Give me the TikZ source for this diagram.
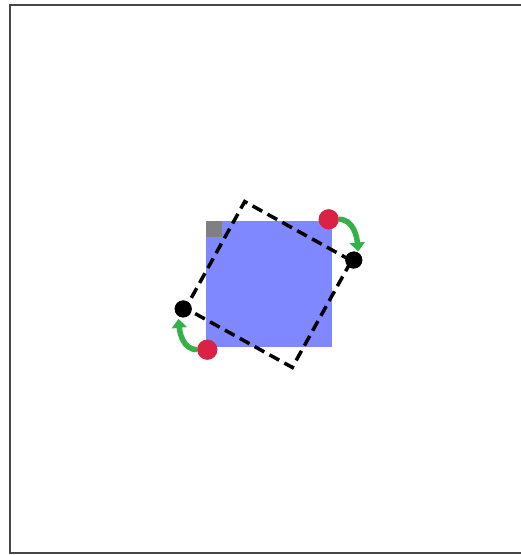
\documentclass[tikz,border=0pt]{standalone}
\usetikzlibrary{arrows.meta}
\definecolor{sqblue}{RGB}{128,136,255}
\definecolor{dotred}{RGB}{218,34,68}
\definecolor{arrgreen}{RGB}{52,178,72}
\definecolor{framegray}{RGB}{70,70,70}
\tikzset{
  reddot/.style={circle, fill=dotred, inner sep=0pt, minimum size=20pt},
  blackdot/.style={circle, fill=black, inner sep=0pt, minimum size=17pt},
  turnarrow/.style={draw=arrgreen, line width=5.5pt, -{Triangle[length=9pt,width=15pt]}},
  dashsq/.style={draw=black, line width=3.5pt, dash pattern=on 11pt off 6pt, minimum size=122pt, inner sep=0pt},
}
\begin{document}
\begin{tikzpicture}[x=1pt,y=1pt]
\useasboundingbox (0,0) rectangle (521,555);
\begin{scope}
\clip (0,0) rectangle (521,555);
\draw[framegray, line width=2pt] (10,2) rectangle (540,550);
\end{scope}
\coordinate (c) at (268.5,270.5);
\node[fill=sqblue, minimum size=126pt, inner sep=0pt] (sq) at (c) {};
\node[fill=gray, minimum size=16pt, inner sep=0pt, anchor=north west] (g) at (sq.north west) {};
\node[dashsq, rotate=-29] (rot) at (c) {};
\node[reddot] (r1) at ([shift={(-3,2)}]sq.north east) {};
\node[reddot] (r2) at ([shift={(2,-2)}]sq.south west) {};
\node[blackdot] (b1) at (rot.north east) {};
\node[blackdot] (b2) at (rot.south west) {};
\draw[turnarrow] (r1.east) to[out=0, in=95] ([shift={(0,1)}]b1.60);
\draw[turnarrow] (r2.west) to[out=180, in=-85] ([shift={(-1,-2)}]b2.-115);
\node[reddot] at (r1) {};
\node[reddot] at (r2) {};
\node[blackdot] at (b1) {};
\node[blackdot] at (b2) {};
\end{tikzpicture}
\end{document}
